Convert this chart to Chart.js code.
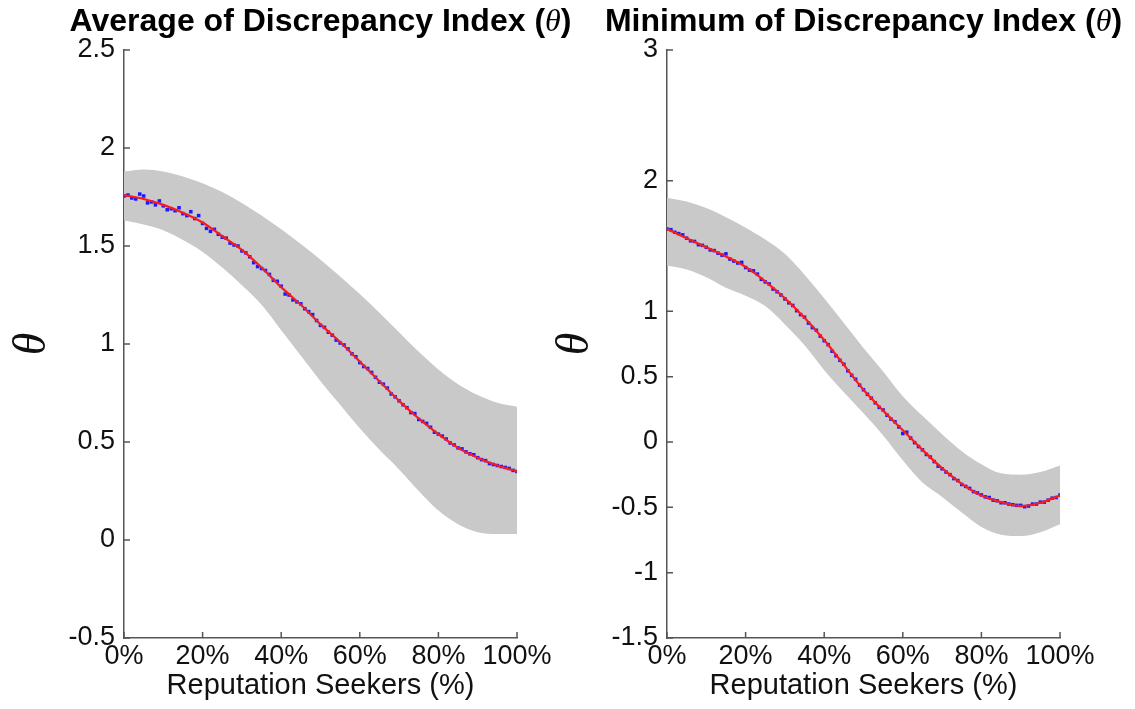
<!DOCTYPE html>
<html>
<head>
<meta charset="utf-8">
<title>Discrepancy Index</title>
<script src="https://cdn.jsdelivr.net/npm/chart.js@4.4.1/dist/chart.umd.min.js"></script>
<style>
  html, body { margin: 0; padding: 0; background: #fff; }
  #wrap { position: relative; width: 1135px; height: 709px; overflow: hidden; }
  canvas { position: absolute; top: 0; }
  #leftChart { left: 0; }
  #rightChart { left: 543px; }
</style>
</head>
<body>
<div id="wrap">
  <canvas id="leftChart" width="600" height="709"></canvas>
  <canvas id="rightChart" width="592" height="709"></canvas>
</div>
<script>
// x positions (% reputation seekers)
const pct5 = [0,5,10,15,20,25,30,35,40,45,50,55,60,65,70,75,80,85,90,95,100];
const pct1 = [0,1,2,3,4,5,6,7,8,9,10,11,12,13,14,15,16,17,18,19,20,21,22,23,24,25,26,27,28,29,30,
  31,32,33,34,35,36,37,38,39,40,41,42,43,44,45,46,47,48,49,50,51,52,53,54,55,56,57,58,59,60,
  61,62,63,64,65,66,67,68,69,70,71,72,73,74,75,76,77,78,79,80,81,82,83,84,85,86,87,88,89,90,
  91,92,93,94,95,96,97,98,99,100];
const xTicks = [0,20,40,60,80,100];

// left panel: average of discrepancy index
const leftMean  = [1.76,1.74,1.71,1.67,1.62,1.55,1.48,1.39,1.29,1.20,1.10,1.01,0.91,0.81,0.71,0.62,0.54,0.47,0.42,0.38,0.35];
const leftUpper = [1.88,1.89,1.88,1.855,1.82,1.775,1.72,1.655,1.585,1.51,1.43,1.345,1.255,1.16,1.06,0.96,0.87,0.795,0.74,0.70,0.68];
const leftLower = [1.63,1.61,1.58,1.53,1.47,1.39,1.30,1.20,1.07,0.94,0.81,0.69,0.57,0.46,0.36,0.25,0.15,0.08,0.04,0.03,0.03];
const leftDots = [1.755,1.76,1.745,1.74,1.765,1.755,1.72,1.725,1.71,1.73,
  1.705,1.685,1.69,1.68,1.695,1.665,1.655,1.675,1.64,1.655,
  1.615,1.59,1.575,1.585,1.56,1.545,1.54,1.515,1.505,1.5,
  1.475,1.465,1.445,1.415,1.395,1.385,1.375,1.355,1.325,1.32,
  1.295,1.255,1.25,1.225,1.215,1.205,1.18,1.165,1.15,1.12,
  1.095,1.085,1.06,1.045,1.02,1.005,0.995,0.975,0.95,0.935,
  0.905,0.885,0.875,0.855,0.83,0.805,0.795,0.775,0.745,0.73,
  0.71,0.69,0.675,0.65,0.645,0.615,0.605,0.595,0.575,0.55,
  0.54,0.53,0.515,0.495,0.485,0.47,0.465,0.45,0.44,0.435,
  0.42,0.41,0.405,0.39,0.385,0.38,0.375,0.37,0.365,0.355,0.35];
const leftYTicks = [-0.5,0,0.5,1,1.5,2,2.5];

// right panel: minimum of discrepancy index
const rightMean  = [1.63,1.56,1.49,1.42,1.34,1.23,1.10,0.95,0.78,0.59,0.40,0.24,0.09,-0.06,-0.20,-0.32,-0.41,-0.46,-0.49,-0.465,-0.41];
const rightUpper = [1.87,1.84,1.79,1.72,1.64,1.55,1.44,1.28,1.10,0.91,0.72,0.54,0.35,0.20,0.06,-0.07,-0.17,-0.24,-0.25,-0.23,-0.18];
const rightLower = [1.35,1.32,1.26,1.18,1.12,1.04,0.90,0.74,0.55,0.38,0.22,0.05,-0.14,-0.31,-0.42,-0.54,-0.65,-0.71,-0.72,-0.69,-0.63];
const rightDots = [1.63,1.625,1.605,1.595,1.585,1.56,1.54,1.535,1.51,1.505,
  1.49,1.47,1.465,1.445,1.43,1.44,1.40,1.385,1.37,1.375,
  1.335,1.315,1.31,1.285,1.245,1.225,1.21,1.17,1.15,1.125,
  1.095,1.065,1.045,1.005,0.975,0.955,0.91,0.875,0.855,0.81,
  0.775,0.745,0.695,0.66,0.625,0.595,0.545,0.51,0.48,0.435,
  0.40,0.365,0.335,0.30,0.265,0.245,0.205,0.175,0.155,0.115,
  0.065,0.075,0.03,-0.005,-0.035,-0.06,-0.095,-0.115,-0.15,-0.185,
  -0.205,-0.23,-0.25,-0.28,-0.295,-0.325,-0.34,-0.355,-0.38,-0.39,
  -0.405,-0.42,-0.425,-0.445,-0.45,-0.465,-0.465,-0.475,-0.48,-0.485,
  -0.485,-0.495,-0.49,-0.475,-0.475,-0.46,-0.46,-0.445,-0.43,-0.425,-0.405];
const rightYTicks = [-1.5,-1,-0.5,0,0.5,1,2,3];

const axisColor = '#555';
Chart.defaults.font.family = '"Liberation Sans", Arial, Helvetica, sans-serif';
Chart.defaults.color = '#111';

function pts(xs, ys) {
  return xs.map((x, i) => ({ x: x, y: ys[i] }));
}

// title with italic theta, drawn above the plot
const titlePlugin = {
  id: 'panelTitle',
  afterDraw(chart, args, opts) {
    const ctx = chart.ctx;
    const parts = [
      [opts.text, 'bold 32px "Liberation Sans", Arial, sans-serif'],
      ['\u03B8', 'italic 32px "Liberation Serif", "Times New Roman", serif'],
      [')', 'bold 32px "Liberation Sans", Arial, sans-serif']
    ];
    let total = 0;
    parts.forEach(p => { ctx.font = p[1]; total += ctx.measureText(p[0]).width; });
    let x = (chart.chartArea.left + chart.chartArea.right) / 2 - total / 2;
    ctx.save();
    ctx.fillStyle = '#000';
    ctx.textBaseline = 'alphabetic';
    parts.forEach(p => {
      ctx.font = p[1];
      ctx.fillText(p[0], x, 31);
      x += ctx.measureText(p[0]).width;
    });
    ctx.restore();
  }
};

// inward tick marks like matlab
const innerTicks = {
  id: 'innerTicks',
  afterDraw(chart) {
    const ctx = chart.ctx;
    const a = chart.chartArea;
    const xs = chart.scales.x, ys = chart.scales.y;
    ctx.save();
    ctx.strokeStyle = axisColor;
    ctx.lineWidth = 1.5;
    ctx.beginPath();
    ys.ticks.forEach(t => {
      const y = ys.getPixelForValue(t.value);
      ctx.moveTo(a.left, y); ctx.lineTo(a.left + 6, y);
    });
    xs.ticks.forEach(t => {
      const x = xs.getPixelForValue(t.value);
      ctx.moveTo(x, a.bottom); ctx.lineTo(x, a.bottom - 6);
    });
    ctx.stroke();
    ctx.restore();
  }
};

function makeChart(id, title, mean, upper, lower, dots, yMin, yMax, yTicks) {
  return new Chart(document.getElementById(id), {
    type: 'line',
    data: {
      datasets: [
        { data: pts(pct5, upper), borderWidth: 0, pointRadius: 0, fill: '+1',
          backgroundColor: '#c9c9c9', cubicInterpolationMode: 'monotone', order: 3 },
        { data: pts(pct5, lower), borderWidth: 0, pointRadius: 0, fill: false,
          cubicInterpolationMode: 'monotone', order: 3 },
        { data: pts(pct1, dots), showLine: false, pointStyle: 'rect', pointRadius: 2.5,
          pointBackgroundColor: '#1a1aff', pointBorderWidth: 0, order: 2 },
        { data: pts(pct5, mean), borderColor: '#ff1a1a', borderWidth: 2.2, pointRadius: 0,
          fill: false, cubicInterpolationMode: 'monotone', order: 1 }
      ]
    },
    options: {
      responsive: false,
      animation: false,
      events: [],
      layout: { padding: { top: 50, left: 0, right: id === 'leftChart' ? 83 : 75, bottom: 0 } },
      plugins: {
        legend: { display: false },
        tooltip: { enabled: false },
        panelTitle: { text: title }
      },
      scales: {
        x: {
          type: 'linear', min: 0, max: 100,
          afterBuildTicks: s => { s.ticks = xTicks.map(v => ({ value: v })); },
          afterFit: s => { s.height = 71; },
          grid: { display: false, drawTicks: false },
          border: { display: true, color: axisColor, width: 1.5 },
          ticks: { padding: 2, maxRotation: 0, font: { size: 27 }, color: '#111',
                   callback: v => v + '%' },
          title: { display: true, text: 'Reputation Seekers (%)', font: { size: 29 },
                   color: '#111', padding: { top: 0, bottom: 6 } }
        },
        y: {
          type: 'linear', min: yMin, max: yMax,
          afterBuildTicks: s => { s.ticks = yTicks.map(v => ({ value: v })); },
          afterFit: s => { s.width = 124; },
          grid: { display: false, drawTicks: false },
          border: { display: true, color: axisColor, width: 1.5 },
          ticks: { padding: 9, font: { size: 27 }, color: '#111', callback: v => String(v) },
          title: { display: true, text: '\u03B8', color: '#111',
                   font: { size: 46, style: 'italic', family: '"Liberation Serif", "Times New Roman", serif', lineHeight: 1 },
                   padding: { top: 10, bottom: 0 } }
        }
      }
    },
    plugins: [titlePlugin, innerTicks]
  });
}

makeChart('leftChart', 'Average of Discrepancy Index (', leftMean, leftUpper, leftLower, leftDots, -0.5, 2.5, leftYTicks);
makeChart('rightChart', 'Minimum of Discrepancy Index (', rightMean, rightUpper, rightLower, rightDots, -1.5, 3, rightYTicks);
</script>
</body>
</html>
